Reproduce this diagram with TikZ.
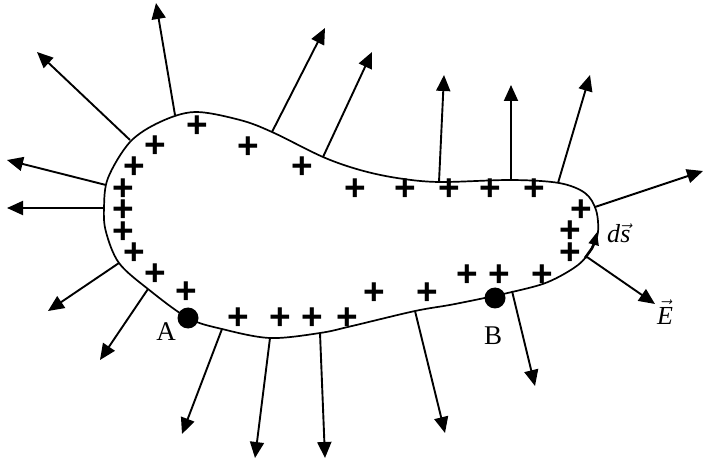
\documentclass[tikz,border=0pt]{standalone}
\usepackage{fontspec}
\setmainfont{Liberation Serif}
\newfontfamily\plusfont{Liberation Sans}
\usetikzlibrary{arrows.meta}
\tikzset{
  field/.style={line width=1.9pt,-{Triangle[length=16pt,width=14pt]}},
  surface/.style={line width=1.7pt},
  charge/.style={font=\plusfont\bfseries\fontsize{37}{37}\selectfont,inner sep=0pt},
  dotpt/.style={circle,fill=black,minimum size=21pt,inner sep=0pt},
  lbl/.style={font=\fontsize{27}{27}\selectfont,inner sep=0pt},
  vlbl/.style={font=\fontsize{26}{26}\selectfont,inner sep=0pt},
  dsarrow/.style={line width=2.6pt,-{Triangle[length=13pt,width=10pt]}}
}
\begin{document}
\begin{tikzpicture}[x=1pt,y=-1pt]
\useasboundingbox (0,0) rectangle (704,462);
% closed surface
\draw[surface] plot[smooth cycle,tension=0.55] coordinates {
 (195,112) (240,120) (272,132) (323,157) (360,170) (397,178) (439,182)
 (511,180) (559,183) (585,193) (596,210) (598,232) (592,248) (578,265)
 (548,282) (512,292) (455,304) (415,311) (352,326) (320,333) (270,338)
 (222,329) (188,318) (148,289) (119,263) (106,232) (104,208) (108,178)
 (130,142) (160,122)};
% bases and tips of field lines
\coordinate (b1) at (130,140); \coordinate (t1) at (37,52);
\coordinate (b2) at (175,115); \coordinate (t2) at (156,3);
\coordinate (b3) at (272,132); \coordinate (t3) at (325,28);
\coordinate (b4) at (323,157); \coordinate (t4) at (372,52);
\coordinate (b5) at (106,185); \coordinate (t5) at (7,160);
\coordinate (b6) at (104,208); \coordinate (t6) at (7,208);
\coordinate (b7) at (439,182); \coordinate (t7) at (444,75);
\coordinate (b8) at (511,181); \coordinate (t8) at (511,85);
\coordinate (b9) at (558,183); \coordinate (t9) at (590,75);
\coordinate (b10) at (595,207); \coordinate (t10) at (703,171);
\coordinate (b11) at (119,263); \coordinate (t11) at (48,311);
\coordinate (b12) at (148,289); \coordinate (t12) at (100,360);
\coordinate (b13) at (222,329); \coordinate (t13) at (182,434);
\coordinate (b14) at (270,338); \coordinate (t14) at (255,458);
\coordinate (b15) at (320,333); \coordinate (t15) at (325,458);
\coordinate (b16) at (415,311); \coordinate (t16) at (445,433);
\coordinate (b17) at (512,291); \coordinate (t17) at (535,386);
\coordinate (b18) at (587,257); \coordinate (t18) at (655,304);
\foreach \i in {1,...,18} { \draw[field] (b\i) -- (t\i); }
% ds element
\coordinate (ds0) at (585,258);
\coordinate (ds1) at (597,232);
\draw[dsarrow] (ds0) .. controls (593,247) .. (ds1);
% points A and B
\node[dotpt] (pA) at (188,318) {};
\node[dotpt] (pB) at (495,298) {};
\node[lbl] (lA) at (166,332) {A};
\node[lbl] (lB) at (493,336) {B};
\node[vlbl,anchor=base west] (lds) at (607,243) {\textit{d}$\vec{\mbox{\itshape s}}$};
\node[vlbl,anchor=base west] (lE) at (657,324) {$\vec{\mbox{\itshape E}}$};
% charges
\foreach \x/\y [count=\k] in {197/127,155/147,134/168,123/190,123/211,123/233,134/254,155/275,186/293,
 248/148,302/168,355/190,405/190,449/190,490/190,534/190,581/211,570/232,570/254,
 467/276,499/276,542/276,374/294,427/294,238/319,280/319,312/319,347/319}
 { \node[charge] (q\k) at (\x,\y) {+}; }
\end{tikzpicture}
\end{document}
